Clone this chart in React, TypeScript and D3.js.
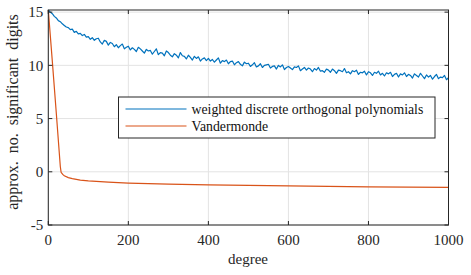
import React from 'react';
import * as d3 from 'd3';

const { scaleLinear, line } = d3;

// blue series, one value every 5 degrees (0..1000)
const weightedStep = 5;
const weightedValues = [
  15.2, 15.0, 14.85, 14.6, 14.45, 14.2, 14.1, 13.9, 13.75, 13.6,
  13.55, 13.35, 13.4, 13.1, 13.2, 12.95, 13.0, 12.8, 12.9, 12.65,
  12.7, 12.45, 12.6, 12.35, 12.5, 12.55, 12.2, 12.0, 12.35, 12.25,
  11.9, 12.15, 12.05, 11.75, 11.95, 11.65, 11.85, 12.0, 11.55, 11.7,
  11.8, 11.45, 11.65, 11.5, 11.3, 11.7, 11.55, 11.35, 11.15, 11.5,
  11.35, 11.4, 11.05, 11.3, 11.55, 11.0, 11.2, 11.15, 10.9, 11.35,
  11.2, 10.95, 10.8, 11.1, 10.95, 10.7, 11.2, 10.9, 10.85, 10.6,
  10.95, 10.75, 10.5, 10.85, 10.65, 10.8, 10.4, 10.6, 10.7, 10.45,
  10.65, 10.4, 10.55, 10.3, 10.5, 10.7, 10.2, 10.45, 10.35, 10.5,
  10.15, 10.35, 10.4, 10.05, 10.25, 10.35, 10.1, 9.95, 10.3, 10.15,
  10.2, 9.9, 10.05, 10.25, 9.85, 9.95, 10.15, 9.8, 10.0, 10.05,
  10.1, 9.75, 9.9, 9.95, 9.65, 10.0, 9.85, 10.05, 9.6, 9.8,
  9.9, 9.75, 9.6, 9.85, 9.8, 9.95, 9.5, 9.65, 9.8, 9.55,
  9.75, 9.65, 9.4, 9.7, 9.55, 9.8, 9.45, 9.5, 9.35, 9.65,
  9.55, 9.35, 9.65, 9.5, 9.25, 9.55, 9.5, 9.4, 9.7, 9.3,
  9.4, 9.2, 9.5, 9.4, 9.55, 9.15, 9.35, 9.3, 9.45, 9.1,
  9.4, 9.3, 9.05, 9.35, 9.25, 9.45, 9.1, 9.25, 9.0, 9.3,
  9.2, 9.35, 8.95, 9.15, 9.25, 8.9, 9.2, 9.1, 9.3, 8.95,
  9.15, 9.05, 8.8, 9.2, 9.05, 8.9, 9.25, 9.0, 8.75, 9.1,
  8.9, 9.05, 8.7, 8.95, 9.15, 8.75, 8.9, 8.85, 9.05, 8.65,
  8.85,
];

// orange series
const vanderDegrees = [0, 10, 20, 30, 32, 36, 40, 50, 60, 80, 100, 150, 200, 300, 400, 500, 600, 700, 800, 900, 1000];
const vanderValues = [15.2, 10.4, 5.5, 0.5, -0.05, -0.25, -0.38, -0.55, -0.65, -0.78, -0.86, -0.98, -1.06, -1.16, -1.23, -1.28, -1.33, -1.37, -1.41, -1.44, -1.47];

const xTicks = [0, 200, 400, 600, 800, 1000];
const yTicks = [-5, 0, 5, 10, 15];
const legendLabels = ['weighted discrete orthogonal polynomials', 'Vandermonde'];
const colors = ['#0072BD', '#D95319'];

const W = 471;
const H = 275;
const plot = { left: 48.3, right: 448.5, top: 10, bottom: 225 };
const FONT = 'Liberation Serif';

export default function App() {
  const x = scaleLinear().domain([0, 1000]).range([plot.left, plot.right]);
  const y = scaleLinear().domain([-5, 15.2]).range([plot.bottom, plot.top]);

  const path = line<[number, number]>()
    .x(d => x(d[0]))
    .y(d => y(d[1]));

  const blue: [number, number][] = weightedValues.map((v, i) => [i * weightedStep, v]);
  const orange: [number, number][] = vanderValues.map((v, i) => [vanderDegrees[i], v]);

  const axisColor = '#262626';
  const gridColor = '#e3e3e3';
  const tickLen = 4;
  const txt = { fontFamily: FONT };

  const leg = { x: 118.5, y: 97, w: 316.5, h: 41 };

  return (
    <svg width={W} height={H} style={{ position: 'absolute', left: 0, top: 0, background: '#fff' }}>
      <rect x={0} y={0} width={W} height={H} fill="#fff" />
      {/* grid */}
      {xTicks.map(t => (
        <line key={`gx${t}`} x1={x(t)} x2={x(t)} y1={plot.top} y2={plot.bottom} stroke={gridColor} strokeWidth={1} />
      ))}
      {yTicks.map(t => (
        <line key={`gy${t}`} x1={plot.left} x2={plot.right} y1={y(t)} y2={y(t)} stroke={gridColor} strokeWidth={1} />
      ))}

      <path d={path(orange) ?? ''} fill="none" stroke={colors[1]} strokeWidth={1.2} />
      <path d={path(blue) ?? ''} fill="none" stroke={colors[0]} strokeWidth={1.2} strokeLinejoin="round" />

      {/* box */}
      <rect x={plot.left} y={plot.top} width={plot.right - plot.left} height={plot.bottom - plot.top}
        fill="none" stroke={axisColor} strokeWidth={1} />
      {xTicks.map(t => (
        <g key={`tx${t}`}>
          <line x1={x(t)} x2={x(t)} y1={plot.bottom} y2={plot.bottom - tickLen} stroke={axisColor} />
          <line x1={x(t)} x2={x(t)} y1={plot.top} y2={plot.top + tickLen} stroke={axisColor} />
          <text x={x(t)} y={plot.bottom + 20} textAnchor="middle" fontSize={15} fill={axisColor}
            fontFamily={FONT} style={txt}>{t}</text>
        </g>
      ))}
      {yTicks.map(t => (
        <g key={`ty${t}`}>
          <line x1={plot.left} x2={plot.left + tickLen} y1={y(t)} y2={y(t)} stroke={axisColor} />
          <line x1={plot.right} x2={plot.right - tickLen} y1={y(t)} y2={y(t)} stroke={axisColor} />
          <text x={plot.left - 5} y={y(t)} dy="0.35em" textAnchor="end" fontSize={15} fill={axisColor}
            fontFamily={FONT} style={txt}>{t}</text>
        </g>
      ))}

      <text x={248} y={264} textAnchor="middle" fontSize={15} fill={axisColor}
        fontFamily={FONT} style={txt}>degree</text>
      <text transform="translate(18, 112) rotate(-90)" textAnchor="middle" fontSize={16} fill={axisColor}
        fontFamily={FONT} style={{ ...txt, whiteSpace: 'pre' }}>approx.  no.  significant  digits</text>

      {/* legend */}
      <rect x={leg.x} y={leg.y} width={leg.w} height={leg.h} fill="#fff" stroke={axisColor} strokeWidth={1} />
      {legendLabels.map((lab, i) => (
        <g key={lab}>
          <line x1={leg.x + 7} x2={leg.x + 68} y1={leg.y + 12 + i * 17} y2={leg.y + 12 + i * 17} stroke={colors[i]} strokeWidth={1.2} />
          <text x={leg.x + 73} y={leg.y + 12 + i * 17} dy="0.33em" fontSize={13.8} fill="#111"
            fontFamily={FONT} style={txt}>{lab}</text>
        </g>
      ))}
    </svg>
  );
}
